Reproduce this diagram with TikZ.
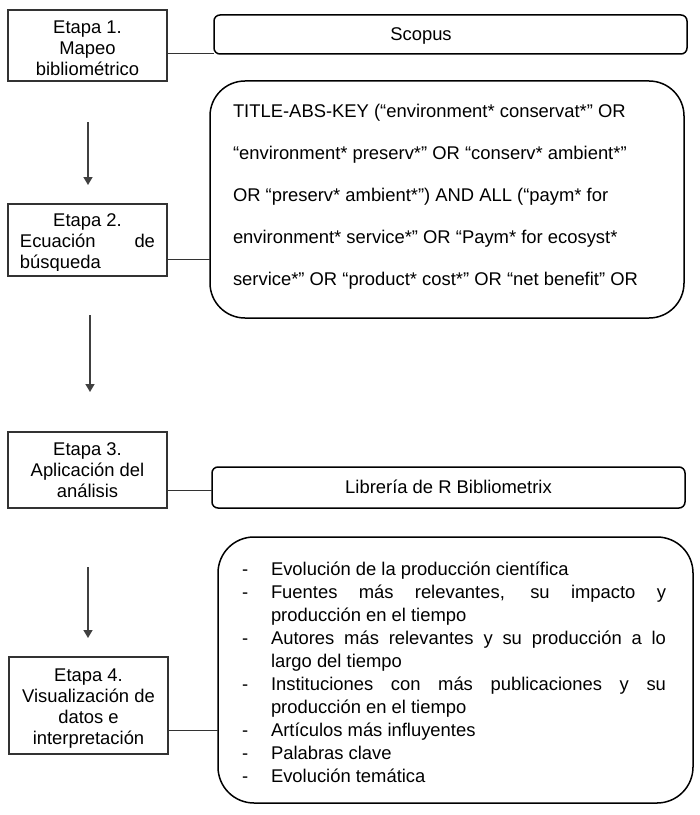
\documentclass[tikz,border=0pt]{standalone}
\usepackage{fontspec}
\setmainfont{Liberation Sans}
\usetikzlibrary{arrows.meta,calc}
\newcommand\myDash{\makebox[29bp][l]{-}}
\newcommand\myIndent{\hspace*{29bp}}
\begin{document}
\begin{tikzpicture}[x=1bp,y=-1bp,
  every node/.style={inner sep=0pt, outer sep=0pt},
  stagebox/.style={draw=black!80, line width=1.2bp, rectangle, minimum width=159bp},
  infobox/.style={draw=black, line width=1.5bp, rectangle},
  smallround/.style={infobox, rounded corners=6bp},
  biground/.style={infobox, rounded corners=36bp},
  txt/.style={font=\fontsize{18.4bp}{21bp}\selectfont, text=black},
  qtxt/.style={font=\fontsize{18.4bp}{42bp}\selectfont, text=black},
  ltxt/.style={font=\fontsize{18.4bp}{23.1bp}\selectfont, text=black},
  link/.style={draw=black!80, line width=1bp},
  flow/.style={draw=black!75, line width=1.5bp, -{Triangle[width=9bp,length=8bp]}},
]
\fill[white] (0,0) rectangle (700,815);
\useasboundingbox (0,0) rectangle (700,815);

% stage boxes
\node[stagebox, minimum height=71bp] (e1) at (87.5,45.5) {};
\node[stagebox, minimum height=72bp] (e2) at (87.5,240) {};
\node[stagebox, minimum height=76bp] (e3) at (87.5,470) {};
\node[stagebox, minimum height=97bp] (e4) at (88.5,705.5) {};

\node[txt, anchor=north, align=center] (e1t) at (87.5,19) {\rule{0pt}{14bp}Etapa 1.\\Mapeo\\bibliométrico};
\begin{scope}
  \clip (8,204) rectangle (167,270);
  \node[txt, anchor=north, align=left] (e2t) at (87.5,212) {\makebox[135bp]{\rule{0pt}{14bp}Etapa 2.}\\\makebox[135bp][l]{Ecuación\hfill de}\\\makebox[135bp][l]{búsqueda}};
\end{scope}
\node[txt, anchor=north, align=center] (e3t) at (87.5,441) {\rule{0pt}{14bp}Etapa 3.\\Aplicación del\\análisis};
\node[txt, anchor=north, align=center] (e4t) at (88.5,667) {\rule{0pt}{14bp}Etapa 4.\\Visualización de\\datos e\\interpretación};

% right boxes
\node[smallround, minimum width=473bp, minimum height=39bp] (scopus) at (450.5,34.5) {};
\node[txt, anchor=base] (scopust) at (421,41) {Scopus};

\node[biground, rounded corners=35bp, minimum width=474bp, minimum height=237bp] (q) at (447,199.5) {};
\node[qtxt, anchor=north west, align=left] (qt) at (233,103) {\rule{0pt}{14bp}TITLE-ABS-KEY (“environment* conservat*” OR\\
“environment* preserv*” OR “conserv* ambient*”\\
OR “preserv* ambient*”) AND ALL (“paym* for\\
environment* service*” OR “Paym* for ecosyst*\\
service*” OR “product* cost*” OR “net benefit” OR};

\node[smallround, minimum width=473bp, minimum height=41bp] (lib) at (448.5,487.5) {};
\node[txt, anchor=base] (libt) at (448.5,493) {Librería de R Bibliometrix};

\node[biground, minimum width=475bp, minimum height=266bp] (list) at (455.5,670) {};
\node[ltxt, anchor=north west, align=left] (listt) at (242,561) {\rule{0pt}{14bp}\myDash Evolución de la producción científica\\
\myDash\makebox[395bp][s]{Fuentes más relevantes, su impacto y}\\
\myIndent producción en el tiempo\\
\myDash\makebox[395bp][s]{Autores más relevantes y su producción a lo}\\
\myIndent largo del tiempo\\
\myDash\makebox[395bp][s]{Instituciones con más publicaciones y su}\\
\myIndent producción en el tiempo\\
\myDash Artículos más influyentes\\
\myDash Palabras clave\\
\myDash Evolución temática};

% connectors
\draw[link] (e1.east |- scopus.south west) -- (scopus.south west);
\coordinate (c2) at ([yshift=-19bp]e2.east);
\draw[link] (c2) -- (c2 -| q.west);
\coordinate (c3) at ([yshift=-20bp]e3.east);
\draw[link] (c3) -- (c3 -| lib.west);
\coordinate (c4) at ([yshift=-24.5bp]e4.east);
\draw[link] (c4) -- (c4 -| list.west);

% flow arrows
\coordinate (a1s) at (88,122); \coordinate (a1e) at (88,185);
\coordinate (a2s) at (90,315); \coordinate (a2e) at (90,392);
\coordinate (a3s) at (88,567); \coordinate (a3e) at (88,638);
\draw[flow] (a1s) -- (a1e);
\draw[flow] (a2s) -- (a2e);
\draw[flow] (a3s) -- (a3e);
\end{tikzpicture}
\end{document}
